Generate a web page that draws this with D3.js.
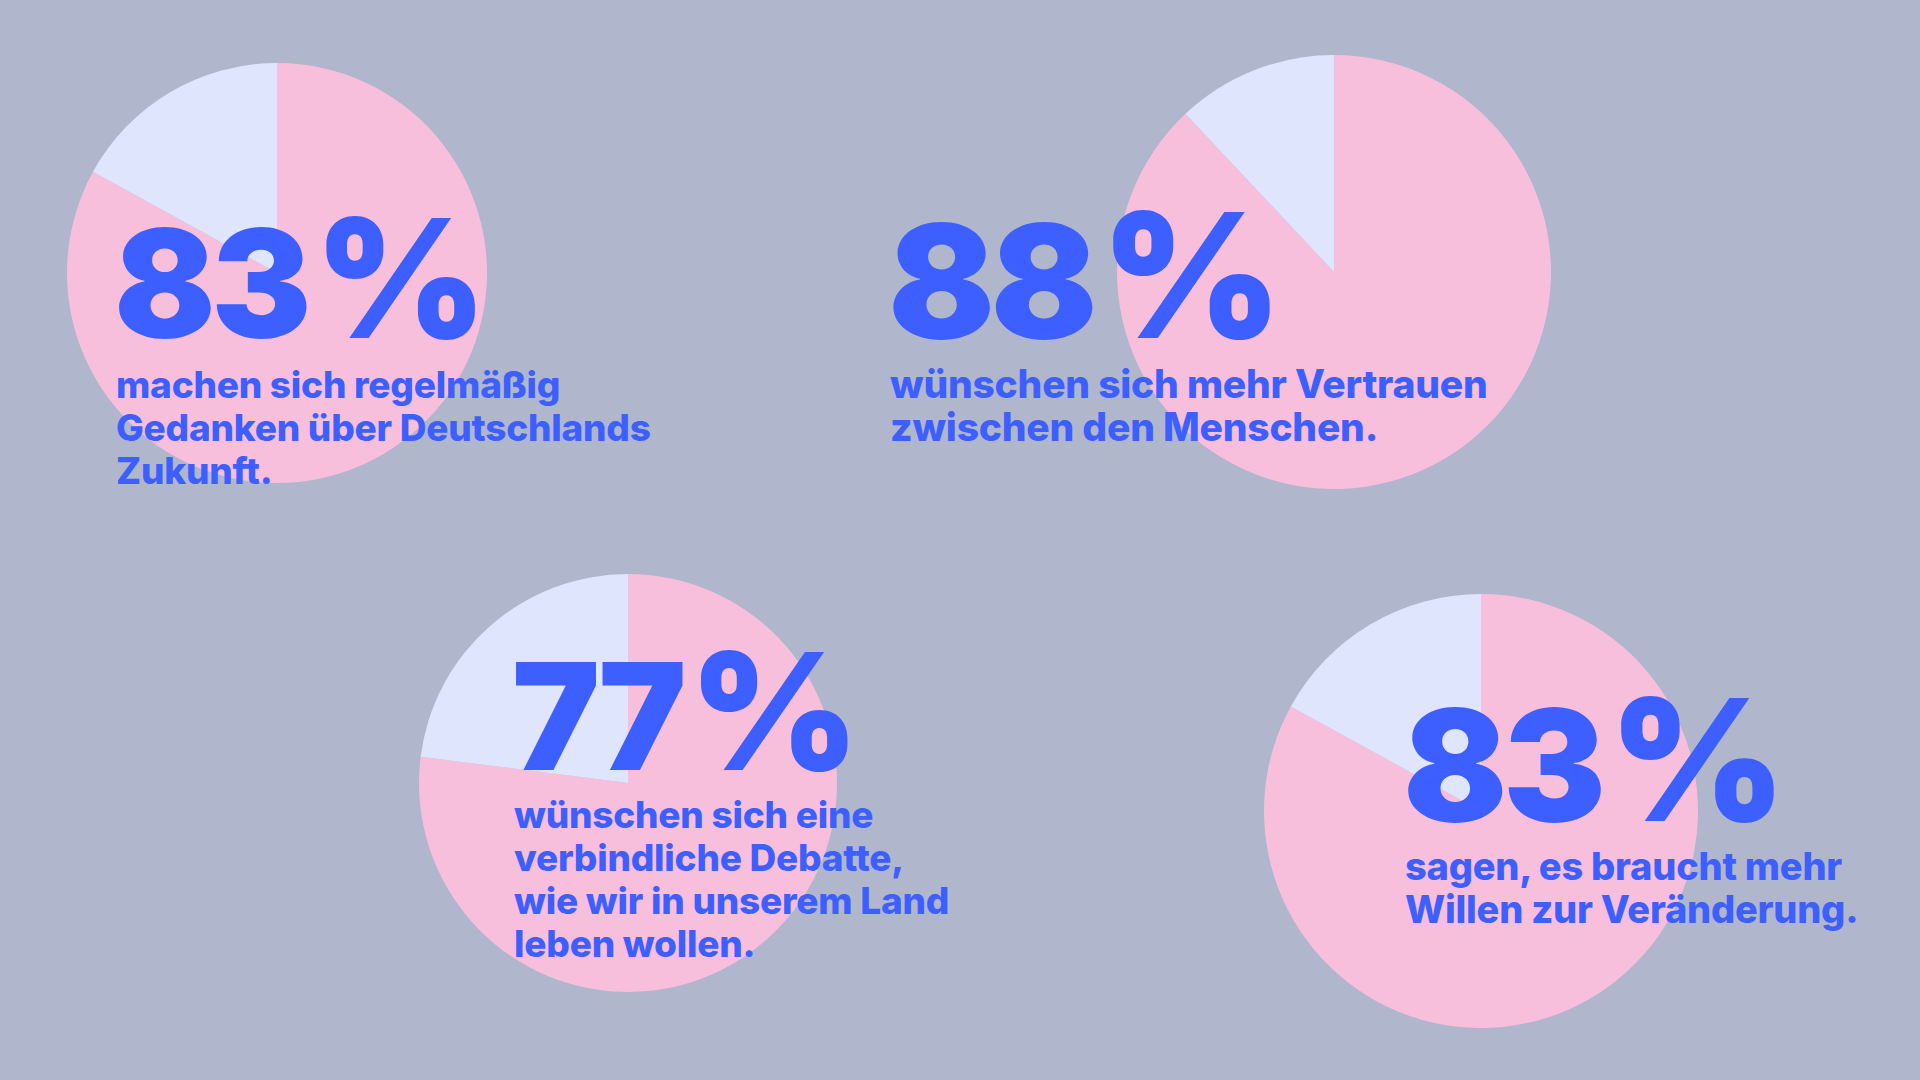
<!DOCTYPE html>
<html>
<head>
<meta charset="utf-8">
<script src="https://cdn.jsdelivr.net/npm/d3@7"></script>
<style>
  html, body { margin: 0; padding: 0; background: #b0b7cc; }
  svg { display: block; }
</style>
</head>
<body>
<div id="chart"></div>
<script>
// values
const percents = [83, 88, 77, 83];
const captions = [
  ["machen sich regelmäßig", "Gedanken über Deutschlands", "Zukunft."],
  ["wünschen sich mehr Vertrauen", "zwischen den Menschen."],
  ["wünschen sich eine", "verbindliche Debatte,", "wie wir in unserem Land", "leben wollen."],
  ["sagen, es braucht mehr", "Willen zur Veränderung."]
];

// layout of each pie + its text block
const layout = [
  { cx: 277, cy: 273, r: 210, tx: 114, numBase: 338, numSize: 150, capBase: 398, capSize: 37 },
  { cx: 1334, cy: 272, r: 217, tx: 888, numBase: 338, numSize: 158, capBase: 398, capSize: 39 },
  { cx: 628, cy: 783, r: 209, tx: 512, numBase: 770, numSize: 148, capBase: 828, capSize: 37 },
  { cx: 1481, cy: 811, r: 217, tx: 1403, numBase: 821, numSize: 154, capBase: 880, capSize: 38 }
];

const width = 1920;
const height = 1080;
const bg = "#b0b7cc";
const pink = "#f7bfdb";
const light = "#e0e5fe";
const blue = "#3d5fff";

const svg = d3.select("#chart")
  .append("svg")
  .attr("width", width)
  .attr("height", height);

svg.append("rect")
  .attr("width", width)
  .attr("height", height)
  .attr("fill", bg);

const pie = d3.pie().sort(null).value(d => d);
const color = d3.scaleOrdinal().domain([0, 1]).range([pink, light]);

const pieLayer = svg.append("g");
const textLayer = svg.append("g");

percents.forEach((p, i) => {
  const L = layout[i];
  const arc = d3.arc().innerRadius(0).outerRadius(L.r);

  pieLayer.append("g")
    .attr("transform", `translate(${L.cx},${L.cy})`)
    .selectAll("path")
    .data(pie([p, 100 - p]))
    .join("path")
      .attr("d", arc)
      .attr("fill", (d, j) => color(j));

  const num = textLayer.append("text")
    .attr("x", L.tx)
    .attr("y", L.numBase)
    .attr("font-family", "Inter, 'Open Sans', sans-serif")
    .attr("font-weight", 900)
    .attr("font-size", L.numSize)
    .attr("letter-spacing", "-0.03em")
    .attr("word-spacing", "-0.12em")
    .attr("fill", blue);
  num.append("tspan").text(`${p} `);
  num.append("tspan")
    .attr("font-size", L.numSize * 1.1)
    .text("%");

  textLayer.append("g")
    .selectAll("text")
    .data(captions[i])
    .join("text")
      .attr("x", L.tx + 2)
      .attr("y", (d, j) => L.capBase + j * 43)
      .attr("font-family", "Inter, 'Open Sans', sans-serif")
      .attr("font-weight", 800)
      .attr("font-size", L.capSize)
      .attr("letter-spacing", "-0.006em")
      .attr("fill", blue)
      .text(d => d);
});
</script>
</body>
</html>
